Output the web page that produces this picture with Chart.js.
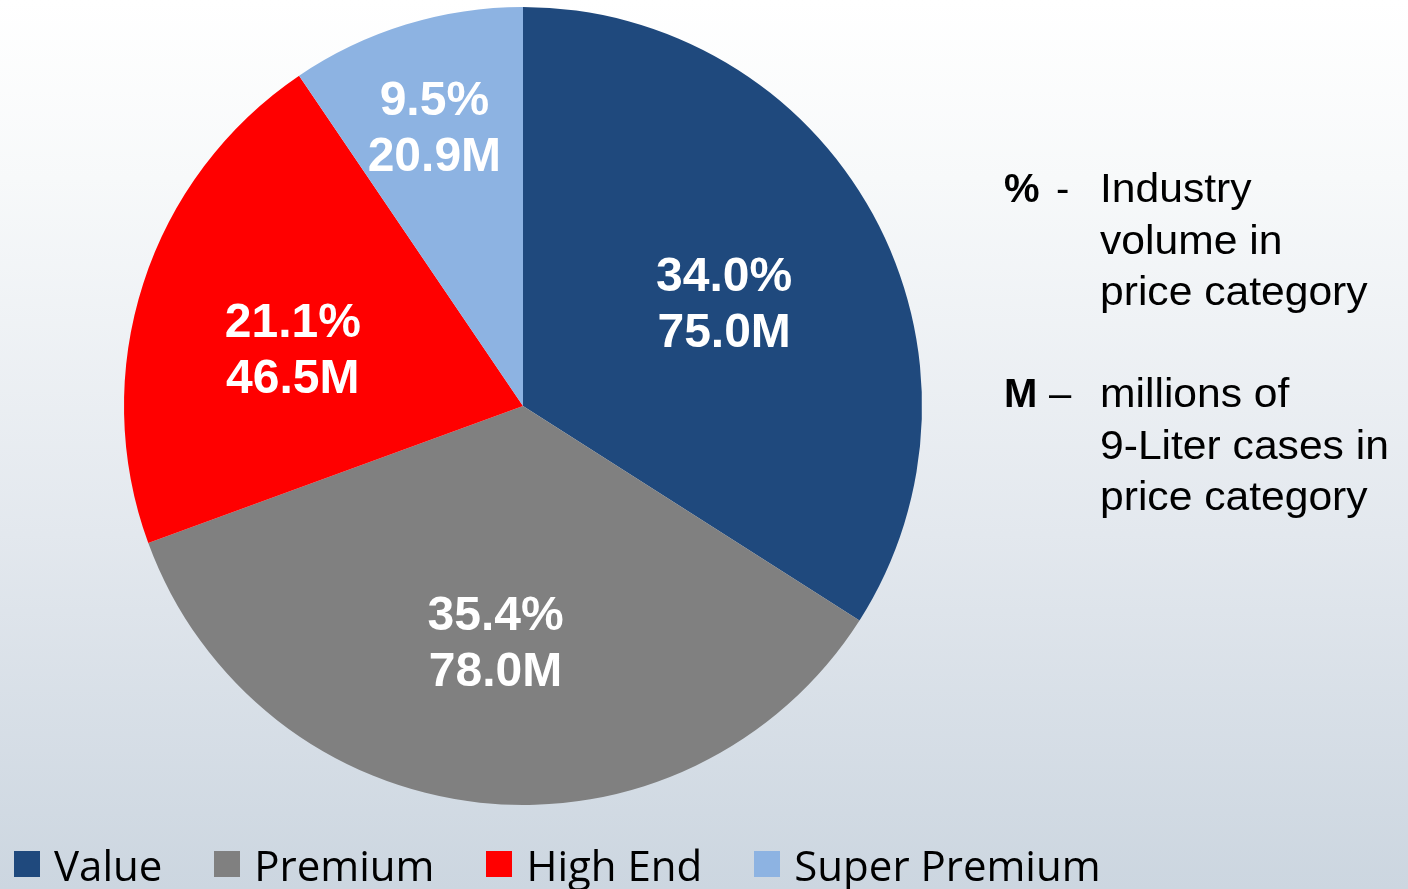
<!DOCTYPE html>
<html>
<head>
<meta charset="utf-8">
<script src="https://cdn.jsdelivr.net/npm/chart.js@4.4.1/dist/chart.umd.min.js"></script>
<style>
  html, body { margin: 0; padding: 0; }
  body {
    width: 1408px; height: 889px; overflow: hidden; position: relative;
    background: linear-gradient(to bottom, #ffffff 0%, #f7f9fa 20%, #e3e8ee 60%, #ccd6e0 100%);
  }
  #chart { position: absolute; left: 0; top: 0; }
  .notes {
    position: absolute; left: 1004px;
    font-family: "Liberation Sans", Arial, sans-serif; font-size: 40px; line-height: 51.5px; color: #000;
  }
  .notes .key { position: absolute; left: 0; top: 0; white-space: pre; }
  .notes .dash { position: absolute; top: 0; }
  .notes .txt {
    position: absolute; left: 96px; top: 0; white-space: nowrap;
    transform: scaleX(1.065); transform-origin: left top;
  }
</style>
<style>
  #legend {
    position: absolute; left: 14px; top: 840px; height: 48px;
    display: flex; align-items: center; gap: 52px;
    font-family: "Open Sans", sans-serif; font-size: 42px; color: #000;
  }
  #legend .item { display: flex; align-items: center; gap: 14px; }
  #legend .box { width: 26px; height: 26px; }
</style>
</head>
<body>
<canvas id="chart" width="1408" height="889"></canvas>
<div class="notes" style="top:163px">
  <div class="key"><b>%</b></div>
  <div class="dash" style="left:52px">-</div>
  <div class="txt">Industry<br>volume in<br>price category</div>
</div>
<div class="notes" style="top:368px">
  <div class="key"><b>M</b></div>
  <div class="dash" style="left:45px">–</div>
  <div class="txt">millions of<br>9-Liter cases in<br>price category</div>
</div>
<div id="legend"></div>
<script>
// --- chart data ---
const categories = ['Value', 'Premium', 'High End', 'Super Premium'];
const volumes = [75.0, 78.0, 46.5, 20.9];          // millions of 9-liter cases
const shares = ['34.0%', '35.4%', '21.1%', '9.5%']; // share of industry volume
const colors = ['#1f497d', '#808080', '#ff0000', '#8db3e2'];

// label placement per slice: [fraction of radius, angle nudge in degrees]
const labelPlace = [[0.566, 1.7], [0.598, 0.4], [0.594, -4.1], [0.732, -0.6]];

// build the legend below the pie
const legendEl = document.getElementById('legend');
categories.forEach((name, i) => {
    const item = document.createElement('div');
    item.className = 'item';
    item.innerHTML = `<span class="box" style="background:${colors[i]}"></span><span>${name}</span>`;
    legendEl.appendChild(item);
});

// draws "share / volume" inside each slice
const sliceLabels = {
    id: 'sliceLabels',
    afterDatasetsDraw(chart) {
        const ctx = chart.ctx;
        const meta = chart.getDatasetMeta(0);
        ctx.save();
        ctx.fillStyle = '#ffffff';
        ctx.font = 'bold 48px "Liberation Sans", Arial, sans-serif';
        ctx.textAlign = 'center';
        ctx.textBaseline = 'middle';
        meta.data.forEach((arc, i) => {
            const p = arc.getProps(['x', 'y', 'startAngle', 'endAngle', 'outerRadius'], true);
            const mid = (p.startAngle + p.endAngle) / 2 + labelPlace[i][1] * Math.PI / 180;
            const r = p.outerRadius * labelPlace[i][0];
            const cx = p.x + Math.cos(mid) * r;
            const cy = p.y + Math.sin(mid) * r;
            ctx.fillText(shares[i], cx, cy - 26);
            ctx.fillText(volumes[i].toFixed(1) + 'M', cx, cy + 30);
        });
        ctx.restore();
    }
};

new Chart(document.getElementById('chart').getContext('2d'), {
    type: 'pie',
    data: {
        labels: categories,
        datasets: [{ data: volumes, backgroundColor: colors, borderWidth: 0 }]
    },
    options: {
        responsive: false,
        animation: false,
        layout: { padding: { left: 124, top: 7, right: 486, bottom: 84 } },
        plugins: {
            legend: { display: false },
            tooltip: { enabled: false }
        }
    },
    plugins: [sliceLabels]
});
</script>
</body>
</html>
